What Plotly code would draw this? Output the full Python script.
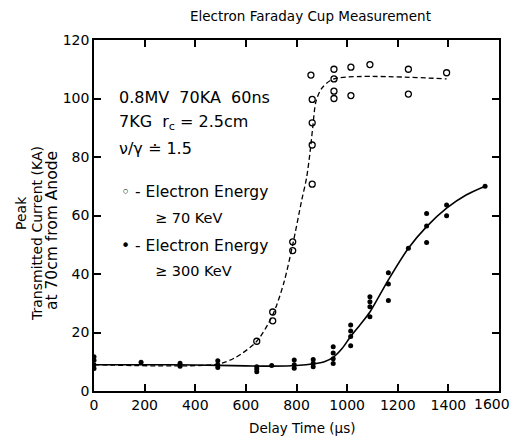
import plotly.graph_objects as go

# ---- data ----
open_x = [643, 706, 706, 785, 785, 857, 862, 862, 862, 862, 948, 948, 948, 948, 1015, 1015, 1090, 1242, 1242, 1393]
open_y = [17, 24, 27, 48, 51, 108, 99.7, 91.7, 84.1, 70.7, 110, 106.7, 100, 102.5, 110.7, 101, 111.6, 110, 101.5, 108.8]

solid_x = [0, 0, 0, 0, 186, 340, 340, 489, 489, 489, 643, 643, 643, 702, 791, 791, 791,
           866, 866, 866, 945, 945, 945, 945, 1014, 1014, 1014, 1014, 1090, 1090, 1090, 1090,
           1163, 1163, 1163, 1242, 1314, 1314, 1314, 1393, 1393, 1545]
solid_y = [7.7, 9, 10.5, 11.7, 9.8, 8.5, 9.5, 8, 9, 10.3, 6.6, 7.5, 8.3, 8.7, 7.8, 9, 10.6,
           8.3, 9.5, 10.8, 9.4, 11, 13, 15.1, 15.5, 18.6, 20.5, 22.6, 25.4, 28.8, 30.5, 32.2,
           30.9, 36.6, 40.4, 48.8, 50.8, 56.4, 60.7, 59.9, 63.6, 70]

fit300_x = [0, 200, 400, 600, 700, 800, 870, 910, 945, 980, 1011, 1050, 1090, 1163, 1242, 1314, 1393, 1470, 1545]
fit300_y = [9, 9, 8.9, 8.6, 8.5, 8.7, 9.3, 10.0, 11.5, 14.5, 18.3, 22.5, 27, 38, 48.8, 56.2, 62.5, 67, 70]

fit70_x = [0, 489, 560, 643, 706, 750, 785, 820, 840, 854, 864, 877, 900, 948, 1393]
fit70_y = [9, 9.2, 11.5, 17, 26, 37, 50, 65, 73, 82, 90, 99, 103.5, 106.7, 106.7]

x_ticks = [0, 200, 400, 600, 800, 1000, 1200, 1400, 1600]
x_tick_labels = ["0", "200", "400", "600", "800", "1000", "1200", "1400", "1600"]
y_ticks = [0, 20, 40, 60, 80, 100, 120]
y_tick_labels = ["0", "20", "40", "60", "80", "100", "120"]

FONT = "DejaVu Sans"

fig = go.Figure()
fig.add_trace(go.Scatter(x=fit70_x, y=fit70_y, mode="lines",
                         line=dict(color="black", width=1.3, dash="5px,3px", shape="spline", smoothing=0.8),
                         hoverinfo="skip"))
fig.add_trace(go.Scatter(x=fit300_x, y=fit300_y, mode="lines",
                         line=dict(color="black", width=1.6, shape="spline", smoothing=0.8),
                         hoverinfo="skip"))
fig.add_trace(go.Scatter(x=open_x, y=open_y, mode="markers",
                         marker=dict(symbol="circle-open", size=6, color="black", line=dict(width=1.3))))
fig.add_trace(go.Scatter(x=solid_x, y=solid_y, mode="markers",
                         marker=dict(symbol="circle", size=5, color="black")))

axis_common = dict(showline=True, linecolor="black", linewidth=1.6, mirror="ticks",
                   ticks="inside", ticklen=7, tickwidth=1.5, tickcolor="black",
                   showgrid=False, zeroline=False, automargin=False,
                   tickfont=dict(family=FONT, size=14, color="black"))

# last x label is placed as an annotation (nudged left like in the original so it stays inside the page)
fig.update_xaxes(range=[0, 1600], tickvals=x_ticks, ticktext=x_tick_labels[:-1] + [""], **axis_common)
fig.update_yaxes(range=[0, 120], tickvals=y_ticks, ticktext=y_tick_labels, **axis_common)

W, H = 514, 440
L, R, T, B = 94, 15, 40, 49
pw, ph = W - L - R, H - T - B

def px(x):
    return (x - L) / pw

def py(y):
    return (H - B - y) / ph

ann = []
ann.append(dict(text=x_tick_labels[-1], x=x_ticks[-1], xref="x", y=0, yref="y",
                xanchor="center", yanchor="top", xshift=-7, yshift=-3, showarrow=False,
                font=dict(family=FONT, size=14, color="black")))
ann.append(dict(text="Electron Faraday Cup Measurement", x=px(310), y=py(16), xref="paper", yref="paper",
                showarrow=False, xanchor="center", yanchor="middle",
                font=dict(family=FONT, size=13.5, color="black")))
ann.append(dict(text="Delay Time (\u03bcs)", x=px(302), y=py(428), xref="paper", yref="paper",
                showarrow=False, xanchor="center", yanchor="middle",
                font=dict(family=FONT, size=13.5, color="black")))
for t, xx, yy, fs in [("Peak", 21, 213, 14), ("Transmitted Current (KA)", 37, 233, 14),
                      ("at 70cm from Anode", 52, 231, 15.5)]:
    ann.append(dict(text=t, x=px(xx), y=py(yy), xref="paper", yref="paper", textangle=-90,
                    showarrow=False, xanchor="center", yanchor="middle",
                    font=dict(family=FONT, size=fs, color="black")))

inner = [
    ("0.8MV  70KA  60ns", 117, 97, 16),
    ("7KG  r<sub>c</sub> = 2.5cm", 117, 123, 16),
    ("\u03bd/\u03b3 \u2250 1.5", 117, 148, 16),
    ("\u25e6 - Electron Energy", 119, 192, 15.5),
    ("\u2265 70 KeV", 153, 218, 14.5),
    ("\u2022 - Electron Energy", 119, 246, 15.5),
    ("\u2265 300 KeV", 153, 271, 14.5),
]
for t, xx, yy, fs in inner:
    ann.append(dict(text=t, x=px(xx), y=py(yy), xref="paper", yref="paper",
                    showarrow=False, xanchor="left", yanchor="middle",
                    font=dict(family=FONT, size=fs, color="black")))

fig.update_layout(width=W, height=H, margin=dict(l=L, r=R, t=T, b=B, autoexpand=False),
                  paper_bgcolor="white", plot_bgcolor="white", showlegend=False,
                  annotations=ann)

fig.write_html("out.html")
